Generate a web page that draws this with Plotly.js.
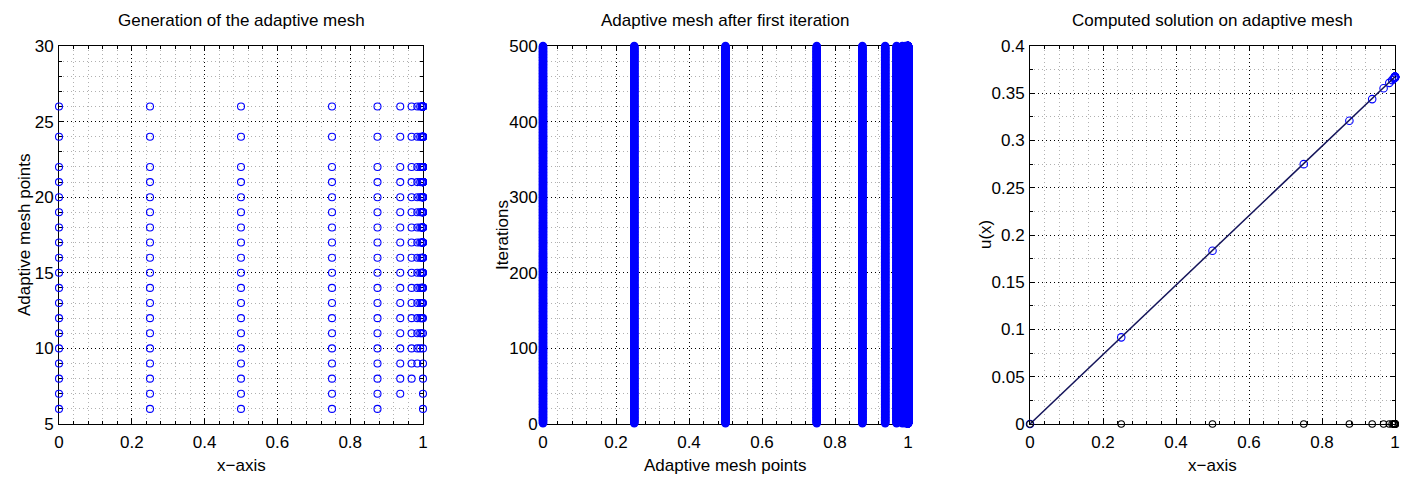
<!DOCTYPE html>
<html><head><meta charset="utf-8">
<script src="https://cdn.plot.ly/plotly-3.0.1.min.js"></script>
<style>html,body{margin:0;padding:0;background:#fff}#chart{width:1416px;height:483px}</style>
</head><body><div id="chart"></div>
<script>
// ---- data ----
const meshX = [0, 0.25, 0.5, 0.75, 0.875, 0.9375, 0.96875, 0.984375, 0.9921875, 0.99609375,
  0.998046875, 0.9990234375, 0.99951171875, 0.999755859375, 0.9998779296875, 0.99993896484375,
  0.999969482421875, 0.9999847412109375, 0.9999923706054688, 0.9999961853027344,
  0.9999980926513672, 0.9999990463256836, 0.9999995231628418, 0.9999997615814209,
  0.9999998807907104, 1];
// number of mesh points at each generation step (rows of the left panel)
const meshSizes = [6, 7, 8, 9, 10, 11, 12, 13, 14, 15, 16, 17, 18, 19, 20, 21, 22, 24, 26];
// iterations shown in the middle panel
const iterFirst = 1, iterLast = 500;
// computed solution u(x) on the adaptive mesh
const uVals = [0, 0.0917, 0.1834, 0.2750, 0.3209, 0.3438, 0.3553, 0.3610, 0.3639, 0.3653,
  0.3660, 0.3664, 0.3666, 0.3667, 0.3668, 0.3669, 0.3670, 0.3671, 0.3672, 0.3673,
  0.3673, 0.3674, 0.3674, 0.3675, 0.3675, 0.3675];
const baseY = meshX.map(() => 0);

const titles = ['Generation of the adaptive mesh', 'Adaptive mesh after first iteration', 'Computed solution on adaptive mesh'];
const xTitles = ['x\u2212axis', 'Adaptive mesh points', 'x\u2212axis'];
const yTitles = ['Adaptive mesh points', 'Iterations', 'u(x)'];

// ---- build traces ----
const leftX = [], leftY = [];
meshSizes.forEach(n => {
  for (let i = 0; i < n - 1; i++) { leftX.push(meshX[i]); leftY.push(n); }
  leftX.push(meshX[meshX.length - 1]); leftY.push(n);
});
const midX = [], midY = [];
meshX.forEach(x => { for (let it = iterFirst; it <= iterLast; it++) { midX.push(x); midY.push(it); } });

const BLUE = '#0000ff';
const FONT = '"Liberation Sans", Arial, Helvetica, sans-serif';
const FS = 17;

const traces = [
  {type:'scatter', mode:'markers', x:leftX, y:leftY, xaxis:'x', yaxis:'y', cliponaxis:false,
   marker:{symbol:'circle-open', size:7, color:BLUE, line:{width:1.1, color:BLUE}}, hoverinfo:'skip'},
  {type:'scatter', mode:'markers', x:midX, y:midY, xaxis:'x2', yaxis:'y2', cliponaxis:false,
   marker:{symbol:'circle', size:8.5, color:BLUE, line:{width:0}}, hoverinfo:'skip'},
  {type:'scatter', mode:'markers', x:meshX, y:uVals, xaxis:'x3', yaxis:'y3', cliponaxis:false,
   marker:{symbol:'circle-open', size:7.5, color:BLUE, line:{width:1.1, color:BLUE}}, hoverinfo:'skip'},
  {type:'scatter', mode:'lines', x:meshX, y:uVals, xaxis:'x3', yaxis:'y3', cliponaxis:false,
   line:{color:'#14145a', width:1.5}, hoverinfo:'skip'},
  {type:'scatter', mode:'markers', x:meshX, y:baseY, xaxis:'x3', yaxis:'y3', cliponaxis:false,
   marker:{symbol:'circle-open', size:6.5, color:'#000', line:{width:1.1, color:'#000'}}, hoverinfo:'skip'}
];

// ---- layout ----
const W = 1416, H = 483;
const px = x => x / W, py = y => 1 - y / H;
const panels = [{l:59, r:423}, {l:543, r:908}, {l:1030, r:1395}];
const TOP = 46, BOT = 424;

function ax(domain, range, dtick, mdtick, isX) {
  return {domain, range, autorange:false, tick0:range[0], dtick, layer:'below traces',
    showline:true, linecolor:'#000', linewidth:1, mirror:'ticks',
    ticks:'inside', ticklen:5, tickcolor:'#000', tickwidth:1,
    ticklabelstandoff: isX ? 3 : 1,
    showgrid:true, gridcolor:'#000', griddash:'1px,3px', gridwidth:1, zeroline:false,
    tickfont:{family:FONT, size:FS, color:'#000'},
    minor:{tick0:range[0], dtick:mdtick, showgrid:true, gridcolor:'#b0b0b0', griddash:'1px,3px', gridwidth:1,
      ticks:'inside', ticklen:3, tickcolor:'#000'},
    fixedrange:true};
}
const yd = [py(BOT), py(TOP)];
const layout = {
  width:W, height:H, margin:{l:0, r:0, t:0, b:0}, paper_bgcolor:'#fff', plot_bgcolor:'#fff',
  showlegend:false, font:{family:FONT, size:FS, color:'#000'},
  xaxis:  Object.assign(ax([px(panels[0].l), px(panels[0].r)], [0,1], 0.2, 0.04, true), {anchor:'y'}),
  yaxis:  Object.assign(ax(yd, [5,30], 5, 1, false), {anchor:'x'}),
  xaxis2: Object.assign(ax([px(panels[1].l), px(panels[1].r)], [0,1], 0.2, 0.04, true), {anchor:'y2'}),
  yaxis2: Object.assign(ax(yd, [0,500], 100, 20, false), {anchor:'x2'}),
  xaxis3: Object.assign(ax([px(panels[2].l), px(panels[2].r)], [0,1], 0.2, 0.04, true), {anchor:'y3'}),
  yaxis3: Object.assign(ax(yd, [0,0.4], 0.05, 0.025, false), {anchor:'x3'}),
  annotations: []
};
const yTitleX = [24, 502, 985];
panels.forEach((p, i) => {
  const cx = (p.l + p.r) / 2;
  layout.annotations.push({xref:'paper', yref:'paper', x:px(cx), y:py(21), text:titles[i], showarrow:false,
    xanchor:'center', yanchor:'middle', font:{family:FONT, size:FS, color:'#000'}});
  layout.annotations.push({xref:'paper', yref:'paper', x:px(cx), y:py(465), text:xTitles[i], showarrow:false,
    xanchor:'center', yanchor:'middle', font:{family:FONT, size:FS, color:'#000'}});
  layout.annotations.push({xref:'paper', yref:'paper', x:px(yTitleX[i]), y:py((TOP + BOT) / 2), text:yTitles[i], showarrow:false,
    textangle:-90, xanchor:'center', yanchor:'middle', font:{family:FONT, size:FS, color:'#000'}});
});

Plotly.newPlot('chart', traces, layout, {staticPlot:true, displayModeBar:false});
</script>
</body></html>
